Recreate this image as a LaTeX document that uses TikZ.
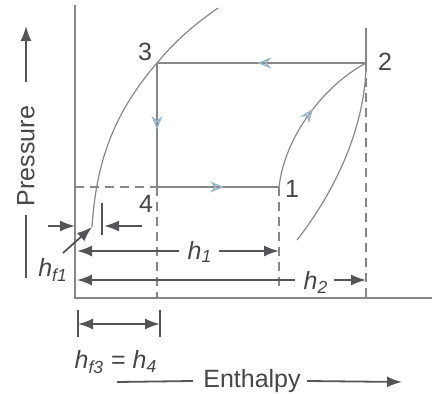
\documentclass[tikz,border=0pt]{standalone}
\usepackage{fontspec}
\setmainfont{Liberation Sans}
\definecolor{cycgray}{RGB}{135,135,135}
\definecolor{dimgray}{RGB}{85,85,88}
\definecolor{txtgray}{RGB}{70,70,72}
\definecolor{flowblue}{RGB}{150,180,198}
\usetikzlibrary{arrows.meta,decorations.markings}
\newcommand{\hlab}[1]{\textit{h}\textsubscript{\textit{#1}}}

\begin{document}
\begin{tikzpicture}[x=0.5pt,y=-0.5pt,
    cyc/.style={cycgray,line width=0.6pt},
    guide/.style={cycgray,line width=0.7pt,dash pattern=on 4.5pt off 3pt},
    dim/.style={dimgray,line width=0.9pt,-{Latex[length=7.5pt,width=5.5pt]}},
    tick/.style={dimgray,line width=0.9pt},
    flow/.style={postaction={decorate,decoration={markings,
      mark=at position #1 with {\arrow{Stealth[open,length=7pt,width=5.5pt,flowblue,line width=0.7pt]}}}}},
    lbl/.style={text=txtgray,font=\fontsize{12.5}{15}\selectfont,inner sep=0pt},
    hl/.style={text=txtgray,font=\fontsize{12.5}{15}\selectfont,inner sep=0pt},
    big/.style={text=txtgray,font=\fontsize{12.5}{15}\selectfont,inner sep=0pt}]
  \useasboundingbox (0,0) rectangle (432,394);
  % state points and frame
  \coordinate (p1) at (279,187);
  \coordinate (p2) at (366,63);
  \coordinate (p3) at (157,63);
  \coordinate (p4) at (157,187);
  \coordinate (f1) at (92,227);
  \coordinate (vbot) at (297,240);
  \coordinate (ytop) at (75,5);
  \coordinate (o) at (75,298);
  \coordinate (xend) at (432,298);
  \draw[cycgray,line width=0.6pt] (ytop) -- (o) -- (xend);
  % saturation lines
  \draw[cyc] (f1) .. controls (96,165) and (112,115) .. (p3)
    .. controls (175,41) and (195,24) .. (218,8);
  \draw[cyc] (vbot) .. controls (340,185) and (366,120) .. (p2);
  \draw[cyc] (p2) -- (366,28);
  % cycle
  \draw[cyc,flow=0.52] (p2) -- (p3);
  \draw[cyc,flow=0.54] (p3) -- (p4);
  \draw[cyc,flow=0.55] (p4) -- (p1);
  \draw[cyc,flow=0.55] (p1) .. controls (285,135) and (325,85) .. (p2);
  % projections
  \draw[guide] (75,187) -- (p4);
  \draw[guide] (p4) -- (157,298);
  \draw[guide] (p1) -- (279,292);
  \draw[guide] (p2) -- (366,298);
  \node[lbl] (n1) at (292,189) {1};
  \node[lbl] (n2) at (385,62) {2};
  \node[lbl] (n3) at (145,52) {3};
  \node[lbl] (n4) at (146,204) {4};
  % h_f1
  \coordinate (a1) at (48,226);
  \coordinate (a2) at (75,226);
  \coordinate (b1) at (142,226);
  \coordinate (b2) at (104,226);
  \draw[dim] (a1) -- (a2);
  \draw[dim] (b1) -- (b2);
  \draw[tick] (102,203) -- (102,235);
  \node[hl] (hf1) at (53,270) {\hlab{f1}};
  \draw[dim] (63,253) -- (f1);
  % h_1 and h_2
  \node[hl] (h1) at (200,252) {\hlab{1}};
  \coordinate (h1l) at (77,251);
  \coordinate (h1r) at (279,251);
  \draw[dim] (h1.west) ++(-8,-1) -- (h1l);
  \draw[dim] (h1.east) ++(6,-1) -- (h1r);
  \node[hl] (h2) at (316,282) {\hlab{2}};
  \coordinate (h2l) at (77,280);
  \coordinate (h2r) at (366,280);
  \draw[dim] (h2.west) ++(-8,-2) -- (h2l);
  \draw[dim] (h2.east) ++(5,-2) -- (h2r);
  % h_f3 = h_4
  \coordinate (c1) at (78,324);
  \coordinate (c2) at (160,324);
  \draw[tick] (78,310) -- (78,337);
  \draw[tick] (160,310) -- (160,337);
  \draw[dim,{Latex[length=7.5pt,width=5.5pt]}-{Latex[length=7.5pt,width=5.5pt]}] (c1) -- (c2);
  \node[hl] (hf3) at (116,362) {\hlab{f3} = \hlab{4}};
  % axis titles
  \node[big] (en) at (252,381) {Enthalpy};
  \coordinate (e1) at (117,382);
  \coordinate (e2) at (402,382);
  \draw[tick] (e1) -- ([xshift=-5pt]en.west);
  \draw[dim] ([xshift=3pt]en.east) -- (e2);
  \node[big,rotate=90] (pr) at (26,156) {Pressure};
  \coordinate (q1) at (26,82);
  \coordinate (q2) at (26,26);
  \coordinate (q3) at (26,215);
  \coordinate (q4) at (26,278);
  \draw[dim] (q1) -- (q2);
  \draw[tick] (q3) -- (q4);
\end{tikzpicture}
\end{document}
